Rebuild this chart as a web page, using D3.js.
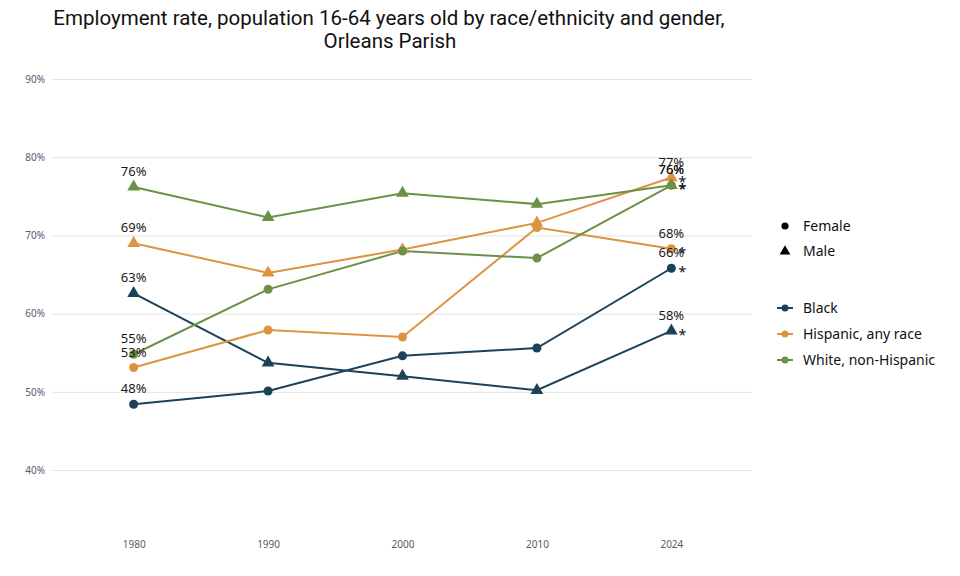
<!DOCTYPE html>
<html>
<head>
<meta charset="utf-8">
<script src="https://cdn.jsdelivr.net/npm/d3@7"></script>
<style>
  body { margin: 0; background: #fff; }
  svg { display: block; }
</style>
</head>
<body>
<svg id="chart" width="960" height="576"></svg>
<script>
const years = ["1980", "1990", "2000", "2010", "2024"];
const yTicks = [40, 50, 60, 70, 80, 90];

const blackFemale = [48.4, 50.1, 54.6, 55.6, 65.8];
const blackMale = [62.6, 53.7, 52.0, 50.2, 57.8];
const hispanicFemale = [53.1, 57.9, 57.0, 71.0, 68.3];
const hispanicMale = [69.0, 65.2, 68.2, 71.6, 77.4];
const whiteFemale = [54.8, 63.1, 68.0, 67.1, 76.4];
const whiteMale = [76.2, 72.3, 75.4, 74.0, 76.4];

const groups = ["Black", "Hispanic, any race", "White, non-Hispanic"];
const genders = ["Female", "Male"];

const series = [
    { group: "Black", gender: "Female", values: blackFemale },
    { group: "Black", gender: "Male", values: blackMale },
    { group: "Hispanic, any race", gender: "Female", values: hispanicFemale },
    { group: "Hispanic, any race", gender: "Male", values: hispanicMale },
    { group: "White, non-Hispanic", gender: "Female", values: whiteFemale },
    { group: "White, non-Hispanic", gender: "Male", values: whiteMale }
];

const svg = d3.select("#chart");
const labelFont = "'Noto Sans', 'Open Sans', sans-serif";
const titleFont = "Roboto, 'Noto Sans', sans-serif";

const color = d3.scaleOrdinal()
    .domain(groups)
    .range(["#1c4259", "#de9340", "#6b9146"]);

const x = d3.scalePoint()
    .domain(years)
    .range([53, 752])
    .padding(0.6);

const y = d3.scaleLinear()
    .domain([40, 90])
    .range([470, 79]);

const circleSym = d3.symbol().type(d3.symbolCircle).size(64);
const triSym = d3.symbol().type(d3.symbolTriangle).size(70);
const shape = g => g === "Female" ? circleSym() : triSym();

// title
svg.append("text")
    .attr("x", 389)
    .attr("y", 25)
    .attr("text-anchor", "middle")
    .attr("font-family", titleFont)
    .attr("font-size", 20.5)
    .attr("fill", "#111")
    .text("Employment rate, population 16-64 years old by race/ethnicity and gender,");
svg.append("text")
    .attr("x", 390)
    .attr("y", 48)
    .attr("text-anchor", "middle")
    .attr("font-family", titleFont)
    .attr("font-size", 20.5)
    .attr("fill", "#111")
    .text("Orleans Parish");

// gridlines + y axis
const yAxis = svg.append("g")
    .attr("transform", "translate(53,0)")
    .call(d3.axisLeft(y)
        .tickValues(yTicks)
        .tickSize(-699)
        .tickPadding(8)
        .tickFormat(d => d + "%"));
yAxis.select(".domain").remove();
yAxis.selectAll(".tick line").attr("stroke", "#e3e3e3");
yAxis.selectAll(".tick text")
    .attr("fill", "#5a5a6e")
    .attr("font-family", labelFont)
    .attr("font-size", 10);

// x axis
const xAxis = svg.append("g")
    .attr("transform", "translate(0,535)")
    .call(d3.axisBottom(x).tickSize(0).tickPadding(6));
xAxis.select(".domain").remove();
xAxis.selectAll(".tick text")
    .attr("fill", "#5a5a6e")
    .attr("font-family", labelFont)
    .attr("font-size", 10);

// lines
const line = d3.line()
    .x((d, i) => x(years[i]))
    .y(d => y(d));

svg.append("g")
    .selectAll("path")
    .data(series)
    .enter().append("path")
    .attr("d", d => line(d.values))
    .attr("fill", "none")
    .attr("stroke", d => color(d.group))
    .attr("stroke-width", 2);

// markers
series.forEach(s => {
    svg.append("g")
        .selectAll("path")
        .data(s.values)
        .enter().append("path")
        .attr("transform", (d, i) => `translate(${x(years[i])},${y(d)})`)
        .attr("d", shape(s.gender))
        .attr("fill", color(s.group));
});

// value labels at first and last points, stars at last
series.forEach(s => {
    [0, years.length - 1].forEach(i => {
        svg.append("text")
            .attr("x", x(years[i]))
            .attr("y", y(s.values[i]) - 11)
            .attr("text-anchor", "middle")
            .attr("font-family", labelFont)
            .attr("font-size", 13)
            .attr("fill", "#1a1a1a")
            .text(Math.round(s.values[i]) + "%");
    });
    const last = years.length - 1;
    svg.append("text")
        .attr("x", x(years[last]) + 11)
        .attr("y", y(s.values[last]) + 9)
        .attr("text-anchor", "middle")
        .attr("font-family", labelFont)
        .attr("font-size", 14)
        .attr("fill", "#111")
        .text("*");
});

// legend: gender
const legG = svg.append("g")
    .attr("font-family", labelFont)
    .attr("font-size", 14)
    .attr("fill", "#111");

genders.forEach((g, i) => {
    const cy = 226 + i * 25.5;
    legG.append("path")
        .attr("transform", `translate(785,${cy})`)
        .attr("d", g === "Female" ? d3.symbol().type(d3.symbolCircle).size(40)() : d3.symbol().type(d3.symbolTriangle).size(50)())
        .attr("fill", "#000");
    legG.append("text")
        .attr("x", 803)
        .attr("y", cy)
        .attr("dy", "0.35em")
        .text(g);
});

// legend: race/ethnicity
groups.forEach((g, i) => {
    const cy = 308 + i * 26;
    legG.append("line")
        .attr("x1", 777).attr("x2", 793)
        .attr("y1", cy).attr("y2", cy)
        .attr("stroke", color(g))
        .attr("stroke-width", 2);
    legG.append("circle")
        .attr("cx", 785).attr("cy", cy)
        .attr("r", 3.5)
        .attr("fill", color(g));
    legG.append("text")
        .attr("x", 803)
        .attr("y", cy)
        .attr("dy", "0.35em")
        .text(g);
});
</script>
</body>
</html>
